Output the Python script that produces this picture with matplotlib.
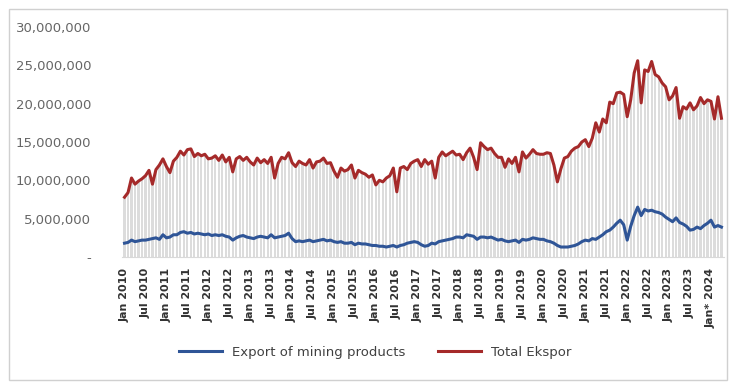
import matplotlib.pyplot as plt
import numpy as np

# monthly values, Jan 2010 - Apr 2024 (millions)
total_ekspor = [
    7.8, 8.4, 10.3, 9.5, 9.9, 10.2, 10.6, 11.3, 9.5, 11.4, 12.0, 12.8,   # 2010
    11.8, 11.0, 12.5, 13.0, 13.8, 13.3, 14.0, 14.1, 13.1, 13.5, 13.2, 13.4,  # 2011
    12.8, 12.9, 13.2, 12.6, 13.3, 12.4, 13.0, 11.1, 12.8, 13.1, 12.6, 13.0,  # 2012
    12.4, 12.0, 12.9, 12.3, 12.7, 12.2, 13.0, 10.3, 12.2, 13.0, 12.8, 13.6,  # 2013
    12.3, 11.8, 12.5, 12.2, 12.0, 12.7, 11.6, 12.4, 12.5, 12.9, 12.2, 12.3,  # 2014
    11.2, 10.4, 11.6, 11.2, 11.4, 12.0, 10.3, 11.3, 11.0, 10.8, 10.4, 10.7,  # 2015
    9.4, 10.0, 9.8, 10.3, 10.6, 11.6, 8.5, 11.6, 11.8, 11.4, 12.2, 12.5,    # 2016
    12.7, 11.8, 12.7, 12.1, 12.5, 10.3, 13.0, 13.7, 13.2, 13.5, 13.8, 13.3,  # 2017
    13.4, 12.7, 13.6, 14.2, 13.0, 11.4, 14.9, 14.4, 14.0, 14.2, 13.5, 13.0,  # 2018
    13.0, 11.7, 12.8, 12.2, 13.0, 11.1, 13.7, 12.9, 13.4, 14.0, 13.5, 13.4,  # 2019
    13.4, 13.6, 13.5, 12.0, 9.8, 11.5, 12.9, 13.1, 13.8, 14.2, 14.4, 15.0,   # 2020
    15.3, 14.4, 15.5, 17.5, 16.3, 18.0, 17.5, 20.2, 20.0, 21.4, 21.5, 21.2,  # 2021
    18.3, 20.5, 24.0, 25.6, 20.1, 24.4, 24.2, 25.5, 23.8, 23.5, 22.7, 22.2,  # 2022
    20.5, 21.0, 22.1, 18.1, 19.6, 19.3, 20.1, 19.2, 19.7, 20.8, 20.0, 20.5,  # 2023
    20.3, 18.0, 20.9, 18.1,                                                   # 2024
]
mining = [
    1.8, 1.9, 2.2, 2.0, 2.1, 2.2, 2.2, 2.3, 2.4, 2.5, 2.3, 2.9,
    2.5, 2.6, 2.9, 2.9, 3.2, 3.3, 3.1, 3.2, 3.0, 3.1, 3.0, 2.9,
    3.0, 2.8, 2.9, 2.8, 2.9, 2.7, 2.6, 2.2, 2.5, 2.7, 2.8, 2.6,
    2.5, 2.4, 2.6, 2.7, 2.6, 2.5, 2.9, 2.5, 2.6, 2.7, 2.8, 3.1,
    2.4, 2.0, 2.1, 2.0, 2.1, 2.2, 2.0, 2.1, 2.2, 2.3, 2.1, 2.2,
    2.0, 1.9, 2.0, 1.8, 1.8, 1.9, 1.6, 1.8, 1.7, 1.7, 1.6, 1.5,
    1.5, 1.4, 1.4, 1.3, 1.4, 1.5, 1.3, 1.5, 1.6, 1.8, 1.9, 2.0,
    1.9, 1.6, 1.4, 1.5, 1.8, 1.7, 2.0, 2.1, 2.2, 2.3, 2.4, 2.6,
    2.6, 2.5, 2.9, 2.8, 2.7, 2.3, 2.6, 2.6, 2.5, 2.6, 2.4, 2.2,
    2.3, 2.1, 2.0, 2.1, 2.2, 1.9, 2.3, 2.2, 2.3, 2.5, 2.4, 2.3,
    2.3, 2.1, 2.0, 1.8, 1.5, 1.3, 1.3, 1.3, 1.4, 1.5, 1.7, 2.0,
    2.2, 2.1, 2.4, 2.3, 2.6, 2.9, 3.3, 3.5, 3.9, 4.4, 4.8, 4.2,
    2.2, 4.0, 5.4, 6.5, 5.4, 6.2, 6.0, 6.1, 5.9, 5.8, 5.6, 5.2,
    4.9, 4.6, 5.1, 4.5, 4.3, 4.0, 3.5, 3.6, 3.9, 3.7, 4.1, 4.4,
    4.8, 3.9, 4.1, 3.9,
]
years = list(range(2010, 2025))
tick_labels = []
for y in years:
    tick_labels.append('Jan* 2024' if y == 2024 else 'Jan %d' % y)
    if y < 2024:
        tick_labels.append('Jul %d' % y)

total = np.array(total_ekspor) * 1e6
mine = np.array(mining) * 1e6
x = np.arange(len(total))

fig = plt.figure(figsize=(7.29, 3.85), dpi=100)
ax = fig.add_axes([0.167, 0.3325, 0.826, 0.5974])

# gray columns behind the total line
ax.bar(x, total, width=0.62, color='#dcdcdc', zorder=1)
ax.plot(x, mine, color='#2f5597', lw=2.2, label='Export of mining products', zorder=3)
ax.plot(x, total, color='#a52a2a', lw=2.2, label='Total Ekspor', zorder=3)

ax.set_xlim(-0.8, len(x) - 0.3)
ax.set_ylim(0, 30e6)
ax.set_yticks(np.arange(0, 30e6 + 1, 5e6))
ax.set_yticklabels(['-'] + ['{:,.0f}'.format(v) for v in np.arange(5e6, 30e6 + 1, 5e6)],
                   fontsize=9.5, color='#666666')
ax.set_xticks(np.arange(0, len(x), 6))
ax.set_xticklabels(tick_labels, rotation=90, fontsize=8, fontweight='semibold', color='#333333')
ax.tick_params(axis='both', length=0)
ax.tick_params(axis='y', pad=22)
ax.tick_params(axis='x', pad=8)
for s in ['top', 'right', 'left']:
    ax.spines[s].set_visible(False)
ax.spines['bottom'].set_color('#d9d9d9')

fig.legend(loc='center', bbox_to_anchor=(0.515, 0.085), ncol=2, frameon=False,
           fontsize=9.5, handlelength=3.2, columnspacing=2.5, labelcolor='#404040')

# outer chart border
fig.patches.append(plt.Rectangle((0.012, 0.012), 0.985, 0.965, transform=fig.transFigure,
                                 fill=False, edgecolor='#d0d0d0', lw=1))

plt.savefig('out.png', dpi=100)
